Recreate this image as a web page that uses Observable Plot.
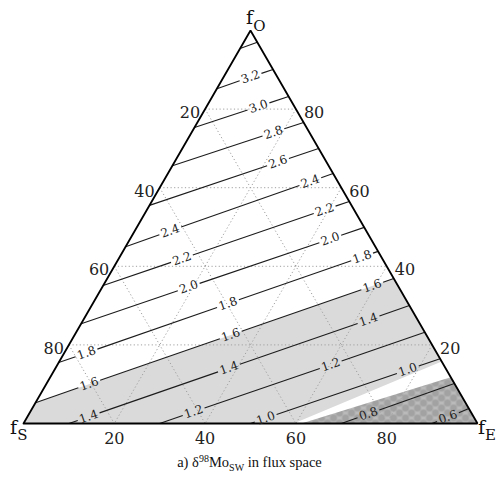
<!DOCTYPE html>
<html><head><meta charset="utf-8">
<script src="https://cdn.jsdelivr.net/npm/d3@7"></script>
<script src="https://cdn.jsdelivr.net/npm/@observablehq/plot@0.6"></script>
<style>
body{margin:0;background:#fff}
svg{display:block}
#cap{width:499px;text-align:center;font:14.5px "Liberation Serif",serif;color:#111;line-height:16px;margin-top:2px}
#cap .sup{font-size:10px;position:relative;top:-5px}
#cap .sub{font-size:10px;position:relative;top:4px}
</style>
</head><body><div id="chart"></div>
<div id="cap">a) δ<span class="sup">98</span>Mo<span class="sub">SW</span> in flux space</div>
<script>
// contour levels (δ98Mo_sw) and where each line meets the triangle edges
const levels  = [3.4, 3.2, 3.0, 2.8, 2.6, 2.4, 2.2, 2.0, 1.8, 1.6, 1.4, 1.2, 1.0, 0.8, 0.6];
const startFE = [0, 0, 0, 0, 0, 0, 0, 0, 0, 0, 0.10, 0.30, 0.50, 0.70, 0.90];
const startFO = [0.954, 0.852, 0.753, 0.656, 0.555, 0.450, 0.351, 0.254, 0.155, 0.053, 0, 0, 0, 0, 0];
const endFO   = [0.970, 0.901, 0.832, 0.766, 0.700, 0.636, 0.565, 0.499, 0.438, 0.369, 0.300, 0.232, 0.165, 0.102, 0.038];
// label positions along each contour (fraction from start to end)
const labelPos = [[], [0.6], [0.68], [0.77], [0.76], [0.215, 0.89], [0.32, 0.9], [0.38, 0.88],
  [0.087, 0.53, 0.95], [0.15, 0.545, 0.94], [0.058, 0.47, 0.88], [0.128, 0.645], [0.08, 0.83], [0.24], [0.43]];
// shaded regions (vertices as fE, fO)
const grayFE  = [0, 0, 0.631, 0.842, 0.595];
const grayFO  = [0, 0.053, 0.369, 0.158, 0];
const hatchFE = [0.612, 0.882, 1];
const hatchFO = [0, 0.118, 0];
// grid & tick labels
const gridVals = [0.2, 0.4, 0.6, 0.8];
const tickLabels = ["20", "40", "60", "80"];

const pt = (fE, fO) => ({x: fE + fO / 2, y: fO});
const lerp = (a, b, t) => ({x: a.x + (b.x - a.x) * t, y: a.y + (b.y - a.y) * t});

const segs = [], labels = [];
levels.forEach((v, i) => {
  const a = pt(startFE[i], startFO[i]);
  const b = pt(1 - endFO[i], endFO[i]);
  const ts = labelPos[i].slice().sort((p, q) => p - q);
  const h = 0.024 / (b.x - a.x);
  let t0 = 0;
  ts.forEach(t => {
    const p = lerp(a, b, t0), q = lerp(a, b, Math.max(t0, t - h));
    segs.push({x1: p.x, y1: p.y, x2: q.x, y2: q.y});
    t0 = Math.min(1, t + h);
    const c = lerp(a, b, t);
    labels.push({x: c.x, y: c.y, text: v.toFixed(1)});
  });
  const p = lerp(a, b, t0);
  segs.push({x1: p.x, y1: p.y, x2: b.x, y2: b.y});
});

const grid = [];
gridVals.forEach(c => {
  let a = pt(0, c), b = pt(1 - c, c); grid.push({x1: a.x, y1: a.y, x2: b.x, y2: b.y});
  a = pt(0, 1 - c); b = pt(1 - c, 0); grid.push({x1: a.x, y1: a.y, x2: b.x, y2: b.y});
  a = pt(c, 1 - c); b = pt(c, 0); grid.push({x1: a.x, y1: a.y, x2: b.x, y2: b.y});
});

const grayPoly = grayFE.map((e, i) => pt(e, grayFO[i]));
const hatchPoly = hatchFE.map((e, i) => pt(e, hatchFO[i]));
const tri = [pt(0, 0), pt(1, 0), pt(0, 1), pt(0, 0)];

const leftTicks = gridVals.map((c, i) => ({...pt(0, 1 - c), text: tickLabels[i]}));
const rightTicks = gridVals.map((c, i) => ({...pt(1 - c, c), text: tickLabels[i]}));
const bottomTicks = gridVals.map((c, i) => ({...pt(c, 0), text: tickLabels[i]}));

const F = "DejaVu Serif";
const svg = Plot.plot({
  width: 499, height: 452,
  margin: 0,
  x: {domain: [0, 1], range: [23, 477], axis: null},
  y: {domain: [0, 1], range: [423, 30], axis: null},
  style: {background: "white"},
  marks: [
    Plot.line([...grayPoly, grayPoly[0]], {x: "x", y: "y", fill: "#dadada", stroke: "none"}),
    Plot.line([...hatchPoly, hatchPoly[0]], {x: "x", y: "y", fill: "#b1b1b1", stroke: "none"}),
    Plot.link(grid, {x1: "x1", y1: "y1", x2: "x2", y2: "y2", stroke: "#a0a0a0", strokeWidth: 1, strokeDasharray: "1.2,2.4"}),
    Plot.link(segs, {x1: "x1", y1: "y1", x2: "x2", y2: "y2", stroke: "#1c1c1c", strokeWidth: 1.1}),
    Plot.line(tri, {x: "x", y: "y", stroke: "#000", strokeWidth: 1.8, strokeLinejoin: "miter"}),
    Plot.text(labels, {x: "x", y: "y", text: "text", rotate: -19, fontSize: 12, fontFamily: F, fill: "#222"}),
    Plot.text(leftTicks, {x: "x", y: "y", text: "text", textAnchor: "end", dx: -5, dy: 4, fontSize: 16, fontFamily: F, fill: "#222"}),
    Plot.text(rightTicks, {x: "x", y: "y", text: "text", textAnchor: "start", dx: 8, dy: 4, fontSize: 16, fontFamily: F, fill: "#222"}),
    Plot.text(bottomTicks, {x: "x", y: "y", text: "text", dy: 15, fontSize: 16, fontFamily: F, fill: "#222"}),
    Plot.text([pt(0, 1)], {x: "x", y: "y", text: () => "f", dx: -1, dy: -13, fontSize: 19, fontFamily: F, fill: "#111"}),
    Plot.text([pt(0, 1)], {x: "x", y: "y", text: () => "O", dx: 9, dy: -4, fontSize: 15, fontFamily: F, fill: "#111"}),
    Plot.text([pt(0, 0)], {x: "x", y: "y", text: () => "f", dx: -10, dy: 4, fontSize: 19, fontFamily: F, fill: "#111"}),
    Plot.text([pt(0, 0)], {x: "x", y: "y", text: () => "S", dx: -1, dy: 12, fontSize: 15, fontFamily: F, fill: "#111"}),
    Plot.text([pt(1, 0)], {x: "x", y: "y", text: () => "f", dx: 4, dy: 4, fontSize: 19, fontFamily: F, fill: "#111"}),
    Plot.text([pt(1, 0)], {x: "x", y: "y", text: () => "E", dx: 13, dy: 12, fontSize: 15, fontFamily: F, fill: "#111"})
  ]
});
const s = d3.select(svg);
s.insert("defs", ":first-child").html(
  '<pattern id="dots" patternUnits="userSpaceOnUse" width="12" height="10">' +
  '<rect width="12" height="10" fill="#bababa"/>' +
  '<circle cx="3" cy="2.5" r="3.5" fill="#a2a2a2"/>' +
  '<circle cx="9" cy="7.5" r="3.5" fill="#a2a2a2"/>' +
  '<circle cx="9" cy="-2.5" r="3.5" fill="#a2a2a2"/>' +
  '<circle cx="-3" cy="7.5" r="3.5" fill="#a2a2a2"/>' +
  '<circle cx="15" cy="2.5" r="3.5" fill="#a2a2a2"/>' +
  '<circle cx="3" cy="12.5" r="3.5" fill="#a2a2a2"/>' +
  '</pattern>');
s.selectAll('[fill="#b1b1b1"]').attr("fill", "url(#dots)");
document.getElementById("chart").appendChild(svg);
</script></body></html>
